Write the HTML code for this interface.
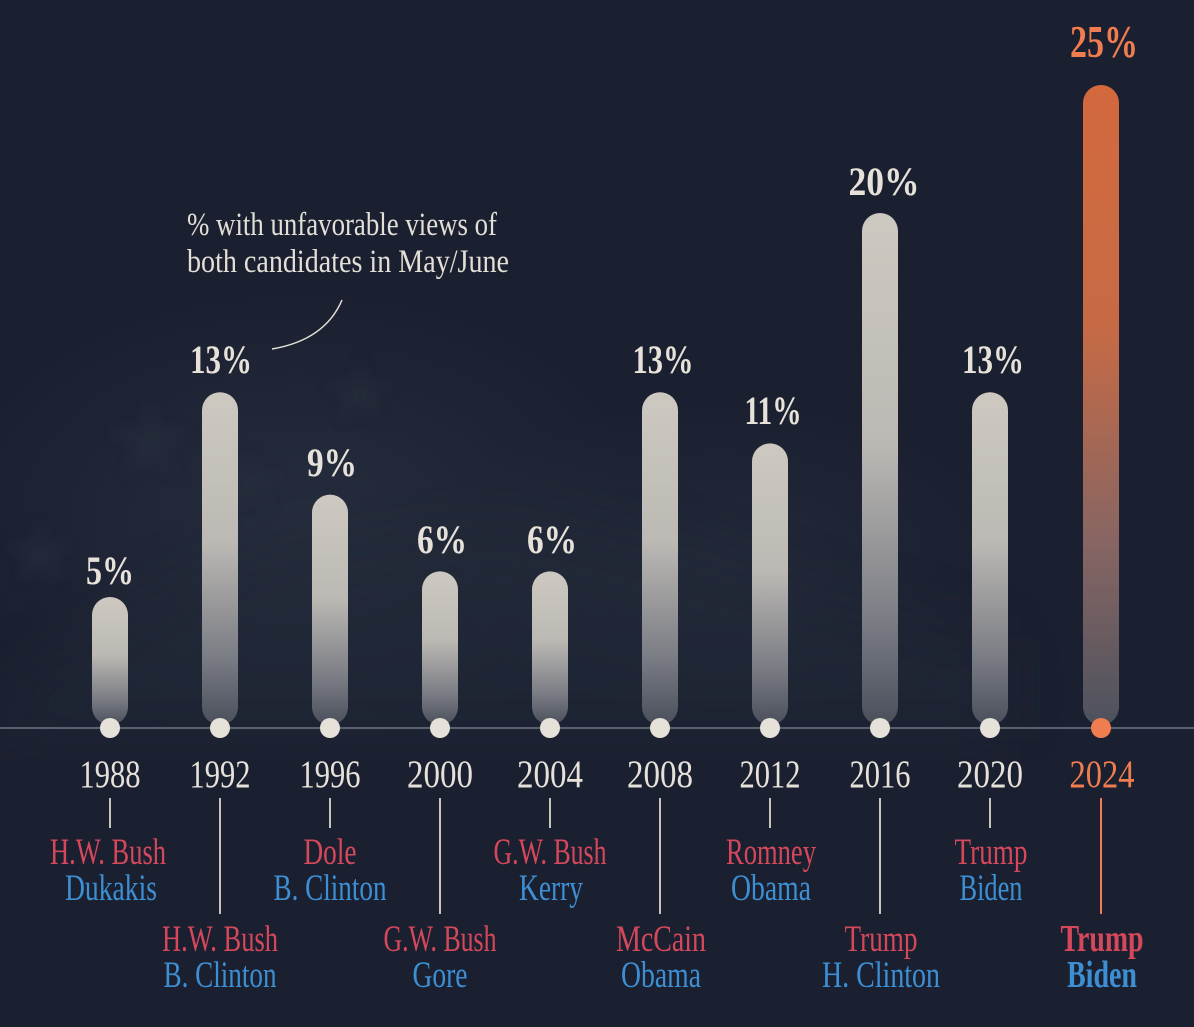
<!DOCTYPE html>
<html><head><meta charset="utf-8"><style>
html,body{margin:0;padding:0;background:#1b2030;}
svg{display:block;}
</style></head><body>
<svg width="1194" height="1027" viewBox="0 0 1194 1027" xmlns="http://www.w3.org/2000/svg">
<defs>
<linearGradient id="g" x1="0" y1="0" x2="0" y2="1">
<stop offset="0" stop-color="#cdc9c1"/>
<stop offset="0.45" stop-color="#bcb9b4"/>
<stop offset="0.8" stop-color="#7a7c84"/>
<stop offset="1" stop-color="#4a4f5b"/>
</linearGradient>
<linearGradient id="go" x1="0" y1="0" x2="0" y2="1">
<stop offset="0" stop-color="#d3693d"/>
<stop offset="0.38" stop-color="#c66a45"/>
<stop offset="0.72" stop-color="#866563"/>
<stop offset="1" stop-color="#4d525e"/>
</linearGradient>
<radialGradient id="bg1" cx="0.5" cy="0.5" r="0.5">
<stop offset="0" stop-color="#2a3242" stop-opacity="0.7"/>
<stop offset="1" stop-color="#2a3242" stop-opacity="0"/>
</radialGradient>
<filter id="blur"><feGaussianBlur stdDeviation="30"/></filter>
<filter id="blur2"><feGaussianBlur stdDeviation="6"/></filter>
</defs>
<rect width="1194" height="1027" fill="#1b2030"/>
<ellipse cx="300" cy="520" rx="360" ry="230" fill="url(#bg1)"/>
<ellipse cx="720" cy="560" rx="300" ry="160" fill="url(#bg1)" opacity="0.7"/>
<path d="M0,700 C200,560 380,480 560,520 C700,550 800,600 1000,640 L1000,740 L0,740 Z" fill="#232a39" opacity="0.45" filter="url(#blur)"/>
<g fill="#262e3d" opacity="0.5" filter="url(#blur2)">
<polygon points="150,400 160,430 192,430 166,448 176,478 150,460 124,478 134,448 108,430 140,430"/>
<polygon points="360,360 368,384 394,384 373,398 381,422 360,408 339,422 347,398 326,384 352,384"/>
<polygon points="40,520 48,544 74,544 53,558 61,582 40,568 19,582 27,558 6,544 32,544"/>
<polygon points="250,450 258,474 284,474 263,488 271,512 250,498 229,512 237,488 216,474 242,474"/>
</g>

<!-- axis -->
<line x1="0" y1="728" x2="1194" y2="728" stroke="#596070" stroke-width="2"/>

<g font-family="'Liberation Serif', serif">
<!-- annotation -->
<text x="187" y="235" font-size="33" fill="#e2dfd7" textLength="310" lengthAdjust="spacingAndGlyphs">% with unfavorable views of</text>
<text x="187" y="272" font-size="33" fill="#e2dfd7" textLength="322" lengthAdjust="spacingAndGlyphs">both candidates in May/June</text>
<path d="M342,300 Q325,340 272,349" fill="none" stroke="#e2dfd7" stroke-width="1.5"/>

<!-- bars -->
<rect x="92" y="597" width="36" height="128" rx="18" fill="url(#g)"/>
<rect x="202" y="392.2" width="36" height="332.8" rx="18" fill="url(#g)"/>
<rect x="312" y="494.6" width="36" height="230.4" rx="18" fill="url(#g)"/>
<rect x="422" y="571.4" width="36" height="153.6" rx="18" fill="url(#g)"/>
<rect x="532" y="571.4" width="36" height="153.6" rx="18" fill="url(#g)"/>
<rect x="642" y="392.2" width="36" height="332.8" rx="18" fill="url(#g)"/>
<rect x="752" y="443.4" width="36" height="281.6" rx="18" fill="url(#g)"/>
<rect x="862" y="213" width="36" height="512" rx="18" fill="url(#g)"/>
<rect x="972" y="392.2" width="36" height="332.8" rx="18" fill="url(#g)"/>
<rect x="1083" y="85" width="36" height="640" rx="18" fill="url(#go)"/>

<!-- dots -->
<g fill="#e6e2da">
<circle cx="110" cy="728" r="10"/><circle cx="220" cy="728" r="10"/><circle cx="330" cy="728" r="10"/>
<circle cx="440" cy="728" r="10"/><circle cx="550" cy="728" r="10"/><circle cx="660" cy="728" r="10"/>
<circle cx="770" cy="728" r="10"/><circle cx="880" cy="728" r="10"/><circle cx="990" cy="728" r="10"/>
</g>
<circle cx="1101" cy="728" r="10" fill="#f07d4f"/>

<!-- value labels -->
<g font-weight="bold" font-size="40" fill="#e6e2da" text-anchor="middle">
<text x="110" y="584" textLength="48" lengthAdjust="spacingAndGlyphs">5%</text>
<text x="221" y="373" textLength="62" lengthAdjust="spacingAndGlyphs">13%</text>
<text x="332" y="476" textLength="50" lengthAdjust="spacingAndGlyphs">9%</text>
<text x="442" y="553" textLength="50" lengthAdjust="spacingAndGlyphs">6%</text>
<text x="552" y="553" textLength="50" lengthAdjust="spacingAndGlyphs">6%</text>
<text x="663" y="373" textLength="61" lengthAdjust="spacingAndGlyphs">13%</text>
<text x="773" y="424" textLength="57" lengthAdjust="spacingAndGlyphs">11%</text>
<text x="884" y="195" textLength="71" lengthAdjust="spacingAndGlyphs">20%</text>
<text x="993" y="373" textLength="62" lengthAdjust="spacingAndGlyphs">13%</text>
</g>
<text x="1104" y="57" font-weight="bold" font-size="45" fill="#ef7d4f" text-anchor="middle" textLength="68" lengthAdjust="spacingAndGlyphs">25%</text>

<!-- years -->
<g font-size="39" fill="#e6e2da" text-anchor="middle">
<text x="110" y="787" textLength="61" lengthAdjust="spacingAndGlyphs">1988</text>
<text x="220" y="787" textLength="61" lengthAdjust="spacingAndGlyphs">1992</text>
<text x="330" y="787" textLength="61" lengthAdjust="spacingAndGlyphs">1996</text>
<text x="440" y="787" textLength="66" lengthAdjust="spacingAndGlyphs">2000</text>
<text x="550" y="787" textLength="66" lengthAdjust="spacingAndGlyphs">2004</text>
<text x="660" y="787" textLength="66" lengthAdjust="spacingAndGlyphs">2008</text>
<text x="770" y="787" textLength="61" lengthAdjust="spacingAndGlyphs">2012</text>
<text x="880" y="787" textLength="61" lengthAdjust="spacingAndGlyphs">2016</text>
<text x="990" y="787" textLength="66" lengthAdjust="spacingAndGlyphs">2020</text>
</g>
<text x="1102" y="787" font-size="39" fill="#f07d4f" text-anchor="middle" textLength="65" lengthAdjust="spacingAndGlyphs">2024</text>

<!-- ticks -->
<g stroke="#c8c4bd" stroke-width="2">
<line x1="110" y1="798" x2="110" y2="828"/>
<line x1="220" y1="798" x2="220" y2="914"/>
<line x1="330" y1="798" x2="330" y2="828"/>
<line x1="440" y1="798" x2="440" y2="914"/>
<line x1="550" y1="798" x2="550" y2="828"/>
<line x1="660" y1="798" x2="660" y2="914"/>
<line x1="770" y1="798" x2="770" y2="828"/>
<line x1="880" y1="798" x2="880" y2="914"/>
<line x1="990" y1="798" x2="990" y2="828"/>
</g>
<line x1="1101" y1="798" x2="1101" y2="914" stroke="#ef7d4f" stroke-width="2"/>

<!-- names -->
<g font-size="37" text-anchor="middle">
<g fill="#d5485b">
<text x="108" y="864" textLength="116" lengthAdjust="spacingAndGlyphs">H.W. Bush</text>
<text x="330" y="864" textLength="53" lengthAdjust="spacingAndGlyphs">Dole</text>
<text x="550" y="864" textLength="113" lengthAdjust="spacingAndGlyphs">G.W. Bush</text>
<text x="771" y="864" textLength="90" lengthAdjust="spacingAndGlyphs">Romney</text>
<text x="991" y="864" textLength="73" lengthAdjust="spacingAndGlyphs">Trump</text>
<text x="220" y="951" textLength="116" lengthAdjust="spacingAndGlyphs">H.W. Bush</text>
<text x="440" y="951" textLength="113" lengthAdjust="spacingAndGlyphs">G.W. Bush</text>
<text x="661" y="951" textLength="90" lengthAdjust="spacingAndGlyphs">McCain</text>
<text x="881" y="951" textLength="73" lengthAdjust="spacingAndGlyphs">Trump</text>
</g>
<g fill="#3d8fd4">
<text x="111" y="900" textLength="92" lengthAdjust="spacingAndGlyphs">Dukakis</text>
<text x="330" y="900" textLength="113" lengthAdjust="spacingAndGlyphs">B. Clinton</text>
<text x="551" y="900" textLength="64" lengthAdjust="spacingAndGlyphs">Kerry</text>
<text x="771" y="900" textLength="80" lengthAdjust="spacingAndGlyphs">Obama</text>
<text x="991" y="900" textLength="63" lengthAdjust="spacingAndGlyphs">Biden</text>
<text x="220" y="987" textLength="113" lengthAdjust="spacingAndGlyphs">B. Clinton</text>
<text x="440" y="987" textLength="55" lengthAdjust="spacingAndGlyphs">Gore</text>
<text x="661" y="987" textLength="80" lengthAdjust="spacingAndGlyphs">Obama</text>
<text x="881" y="987" textLength="118" lengthAdjust="spacingAndGlyphs">H. Clinton</text>
</g>
</g>
<text x="1102" y="951" font-size="38" font-weight="bold" fill="#d5485b" text-anchor="middle" textLength="83" lengthAdjust="spacingAndGlyphs">Trump</text>
<text x="1102" y="987" font-size="38" font-weight="bold" fill="#3d8fd4" text-anchor="middle" textLength="70" lengthAdjust="spacingAndGlyphs">Biden</text>
</g>
</svg>
</body></html>
